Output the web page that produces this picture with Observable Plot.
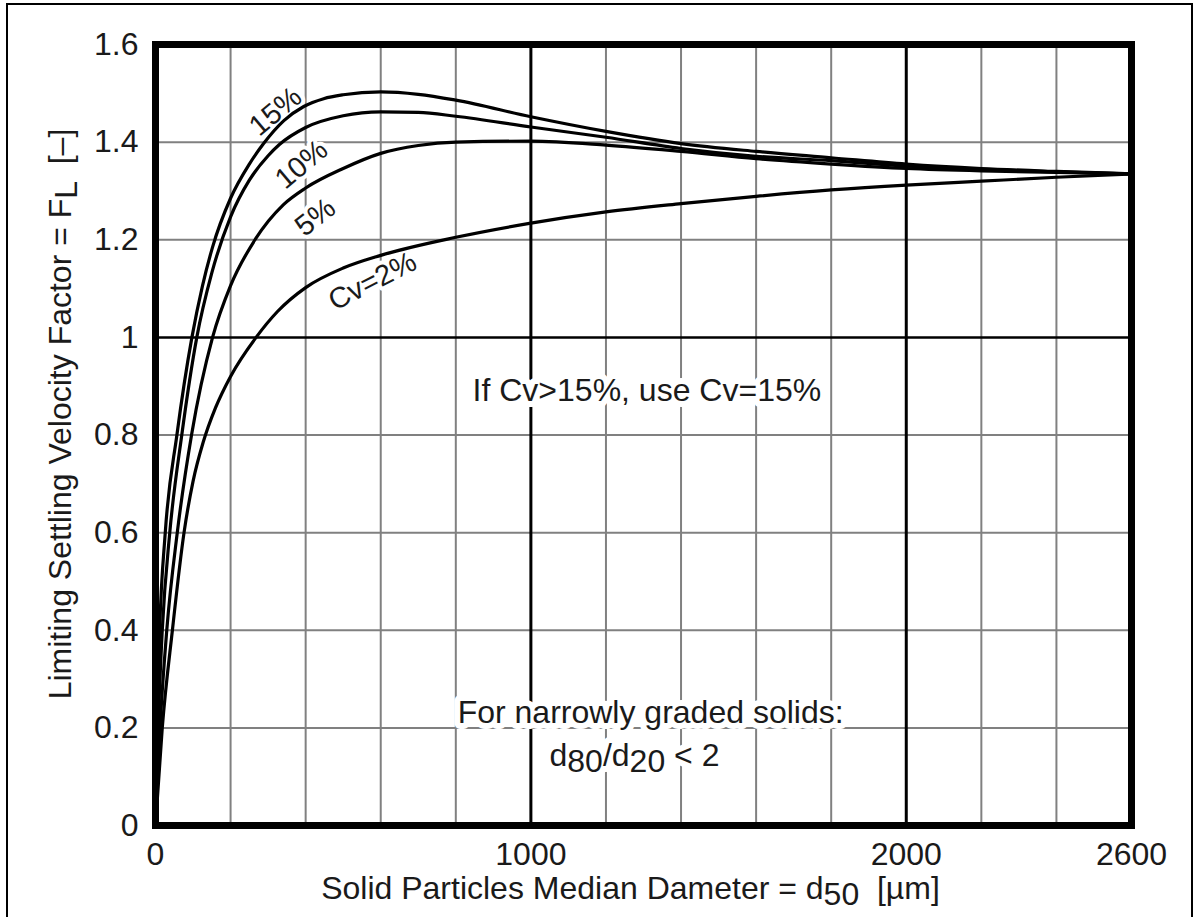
<!DOCTYPE html>
<html><head><meta charset="utf-8">
<script src="https://cdn.jsdelivr.net/npm/d3@7"></script>
<script src="https://cdn.jsdelivr.net/npm/@observablehq/plot@0.6"></script>
<style>
body{margin:0;background:#fff;}
#wrap{position:relative;width:1195px;height:917px;overflow:hidden;background:#fff;}
#border{position:absolute;left:6px;top:3px;width:1187px;height:940px;border:2px solid #000;box-sizing:border-box;pointer-events:none;z-index:2;}
svg text{white-space:pre;}
</style></head><body><div id="wrap"><div id="border"></div><div id="chart"></div></div>
<script>
// Cv = 15 %
const cv15_d = [0, 4, 11, 26, 57, 97, 125, 152, 200, 250, 288, 342, 395, 448, 500, 600, 700, 800, 1000, 1200, 1400, 1600, 1800, 2000, 2200, 2400, 2600];
const cv15_F = [0, 0.2, 0.4, 0.6, 0.8, 1.0, 1.105, 1.185, 1.285, 1.355, 1.397, 1.444, 1.473, 1.489, 1.497, 1.503, 1.498, 1.486, 1.452, 1.422, 1.397, 1.381, 1.368, 1.355, 1.346, 1.34, 1.335];
// Cv = 10 %
const cv10_d = [0, 7, 18, 38, 70, 110, 150, 200, 250, 300, 330, 400, 500, 600, 700, 800, 1000, 1200, 1400, 1600, 1800, 2000, 2200, 2400, 2600];
const cv10_F = [0, 0.2, 0.4, 0.6, 0.8, 1.0, 1.132, 1.247, 1.322, 1.372, 1.395, 1.43, 1.454, 1.462, 1.461, 1.453, 1.431, 1.41, 1.387, 1.371, 1.362, 1.351, 1.344, 1.339, 1.335];
// Cv = 5 %
const cv5_d = [0, 12, 30, 58, 96, 152, 200, 265, 341, 400, 500, 600, 700, 800, 1000, 1200, 1400, 1600, 1800, 2000, 2200, 2400, 2600];
const cv5_F = [0, 0.2, 0.4, 0.6, 0.8, 1.0, 1.106, 1.2, 1.272, 1.306, 1.346, 1.377, 1.393, 1.40, 1.402, 1.394, 1.381, 1.366, 1.355, 1.346, 1.341, 1.338, 1.335];
// Cv = 2 %
const cv2_d = [0, 18, 45, 76, 100, 127, 160, 200, 268, 325, 400, 500, 600, 800, 1000, 1200, 1400, 1600, 1800, 2000, 2200, 2400, 2600];
const cv2_F = [0, 0.2, 0.4, 0.6, 0.705, 0.785, 0.856, 0.92, 1.0, 1.053, 1.102, 1.142, 1.168, 1.205, 1.234, 1.257, 1.274, 1.289, 1.302, 1.312, 1.320, 1.328, 1.335];

const seriesNames = ["15%", "10%", "5%", "Cv=2%"];
const xTicks = [0, 1000, 2000, 2600];
const yTicks = [0, 0.2, 0.4, 0.6, 0.8, 1, 1.2, 1.4, 1.6];
const xGridMinor = [200, 400, 600, 800, 1200, 1400, 1600, 1800, 2200, 2400];
const xGridMajor = [1000, 2000];
const yGridMinor = [0.2, 0.4, 0.6, 0.8, 1.2, 1.4];
const yGridMajor = [1];
const xTitle = "Solid Particles Median Dameter = d_{50}  [\u00b5m]";
const yTitle = "Limiting Settling Velocity Factor = F_{L}  [\u2013]";

// label anchor positions (data coordinates) and angles
const labelD = [320, 389, 426, 578];
const labelF = [1.463, 1.354, 1.246, 1.115];
const labelRot = [-40, -40, -38, -27];

const notes = [
  {d: 1309, F: 0.891, text: "If Cv>15%, use Cv=15%"},
  {d: 1319, F: 0.2315, text: "For narrowly graded solids:"},
  {d: 1276, F: 0.143, text: "d_{80}/d_{20} < 2"}
];

const seriesD = [cv15_d, cv10_d, cv5_d, cv2_d];
const seriesF = [cv15_F, cv10_F, cv5_F, cv2_F];
const rows = seriesNames.flatMap((name, i) => seriesD[i].map((d, j) => ({cv: name, d, F: seriesF[i][j]})));
const labels = seriesNames.map((name, i) => ({text: name, d: labelD[i], F: labelF[i], r: labelRot[i]}));

const FS = 32;
const INK = "#1a1a1a";
const chart = Plot.plot({
  width: 1195,
  height: 917,
  marginLeft: 155,
  marginRight: 64,
  marginTop: 44,
  marginBottom: 92,
  style: {fontFamily: "'Liberation Sans', Arial, sans-serif", color: INK, background: "transparent"},
  x: {domain: [0, 2600]},
  y: {domain: [0, 1.6]},
  marks: [
    Plot.ruleX(xGridMinor, {stroke: "#808080", strokeWidth: 2}),
    Plot.ruleY(yGridMinor, {stroke: "#808080", strokeWidth: 2}),
    Plot.ruleX(xGridMajor, {stroke: "#000", strokeWidth: 3}),
    Plot.ruleY(yGridMajor, {stroke: "#000", strokeWidth: 2.5}),
    // white halos behind annotation texts (break the grid like the original)
    Plot.text(notes, {x: "d", y: "F", text: "text", fontSize: FS, fill: "white", stroke: "white", strokeWidth: 12, lineAnchor: "middle"}),
    Plot.text(labels, {x: "d", y: "F", text: "text", rotate: "r", fontSize: 29, fill: "white", stroke: "white", strokeWidth: 8, lineAnchor: "middle"}),
    Plot.text(notes, {x: "d", y: "F", text: "text", fontSize: FS, fill: INK, lineAnchor: "middle"}),
    Plot.text(labels, {x: "d", y: "F", text: "text", rotate: "r", fontSize: 29, fill: INK, lineAnchor: "middle"}),
    Plot.line(rows, {x: "d", y: "F", z: "cv", curve: "monotone-x", stroke: "#000", strokeWidth: 3.2}),
    Plot.frame({stroke: "#000", strokeWidth: 7}),
    Plot.axisX({ticks: xTicks, tickSize: 0, tickPadding: 17, fontSize: FS, tickFormat: d => String(d), label: null}),
    Plot.axisY({ticks: yTicks, tickSize: 0, tickPadding: 17, fontSize: FS, tickFormat: d => String(d), label: null}),
    Plot.text([xTitle], {frameAnchor: "bottom", dy: 63, dx: -13, fontSize: FS, lineAnchor: "middle", textAnchor: "middle", fill: INK}),
    Plot.text([yTitle], {frameAnchor: "left", dx: -95, dy: -21, rotate: -90, fontSize: FS, lineAnchor: "middle", textAnchor: "middle", fill: INK})
  ]
});

function applySubs(svg) {
  d3.select(svg).selectAll("text").each(function() {
    const t = this.textContent;
    if (!t.includes("_{")) return;
    const parts = t.split(/(_\{[^}]*\})/);
    this.textContent = "";
    let shifted = false;
    for (const p of parts) {
      if (!p) continue;
      const m = p.match(/^_\{([^}]*)\}$/);
      const ts = d3.select(this).append("tspan");
      if (m) { ts.text(m[1]).attr("dy", "0.2em"); shifted = true; }
      else { ts.text(p); if (shifted) { ts.attr("dy", "-0.2em"); shifted = false; } }
    }
  });
}
applySubs(chart);
document.getElementById("chart").appendChild(chart);
</script>
</body></html>
